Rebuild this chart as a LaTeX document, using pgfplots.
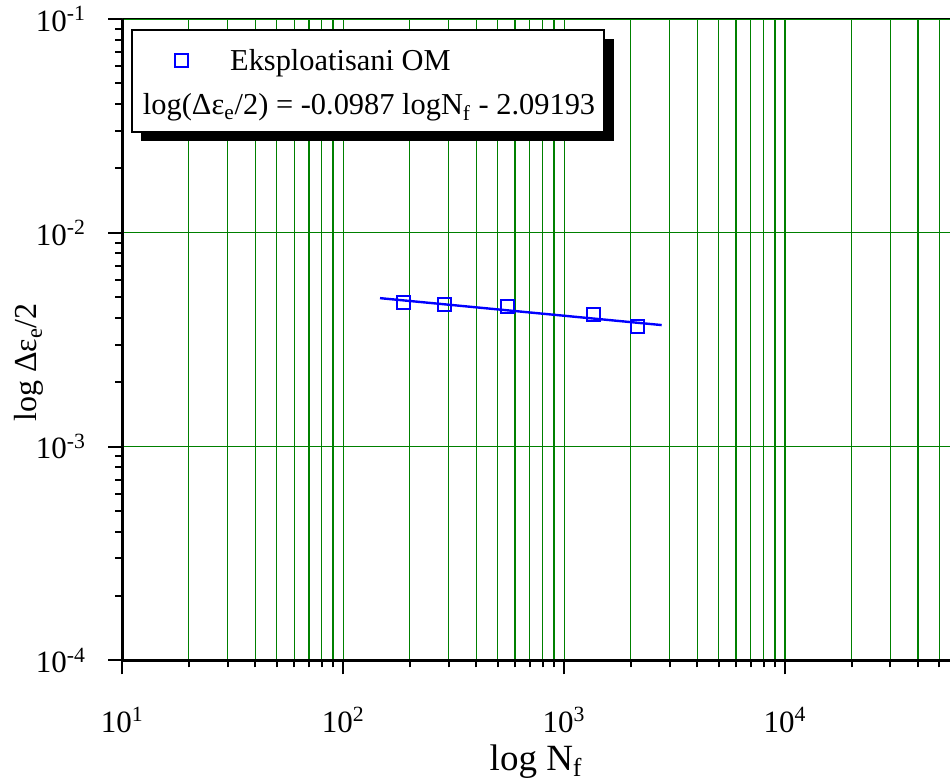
\documentclass[border=0pt]{standalone}
\usepackage{fontspec}
\setmainfont{Liberation Serif}
\usepackage{pgfplots}
\pgfplotsset{compat=1.18}
\usetikzlibrary{shadows}
\definecolor{gridgreen}{RGB}{0,128,0}
\definecolor{ptblue}{RGB}{0,0,255}
\pgfplotsset{
  myimg/.style={legend image code/.code={\path (0pt,0pt); \draw[overlay,##1] plot coordinates {(19.9pt,-1pt)};}},
  emptyimg/.style={legend image code/.code={\path (0pt,0pt);}},
}
\begin{document}
\begin{tikzpicture}
\path[use as bounding box] (-61.15pt,-59.85pt) rectangle (413.85pt,330.15pt);
\begin{axis}[
  at={(0pt,0pt)}, anchor=south west,
  scale only axis, width=413.85pt, height=320.65pt,
  xmode=log, ymode=log,
  xmin=10, xmax=55840, ymin=1e-4, ymax=1e-1,
  axis x line*=bottom, axis y line*=left,
  axis line style={-, line width=1.5pt, black},
  xtick={10,100,1000,10000},
  xticklabels={10\textsuperscript{1},10\textsuperscript{2},10\textsuperscript{3},10\textsuperscript{4}},
  minor xtick={20,30,40,50,60,70,80,90,200,300,400,500,600,700,800,900,2000,3000,4000,5000,6000,7000,8000,9000,20000,30000,40000,50000},
  ytick={1e-4,1e-3,1e-2,1e-1},
  yticklabels={10\textsuperscript{-4},10\textsuperscript{-3},10\textsuperscript{-2},10\textsuperscript{-1}},
  minor ytick={2e-4,3e-4,4e-4,5e-4,6e-4,7e-4,8e-4,9e-4,2e-3,3e-3,4e-3,5e-3,6e-3,7e-3,8e-3,9e-3,2e-2,3e-2,4e-2,5e-2,6e-2,7e-2,8e-2,9e-2},
  xmajorgrids, xminorgrids, ymajorgrids, yminorgrids=false,
  major grid style={gridgreen, line width=0.6pt},
  minor grid style={gridgreen, line width=0.6pt},
  tick align=outside,
  tick style={black, line width=1pt},
  major tick length=7pt, minor tick length=3.5pt,
  tick label style={font=\fontsize{15.5}{18}\selectfont},
  xticklabel style={anchor=base, inner sep=0pt, yshift=-29pt},
  yticklabel style={anchor=east, inner sep=0pt, xshift=-11pt},
  xlabel={log N\textsubscript{f}},
  ylabel={log Δε\textsubscript{e}/2},
  xlabel style={at={(axis description cs:0.5,-0.1711)}, anchor=base, font=\fontsize{18.5}{22}\selectfont},
  ylabel style={at={(axis description cs:-0.1034,0.4644)}, anchor=base, font=\fontsize{16}{19}\selectfont},
  legend cell align=left,
  legend style={at={(0.0105,0.9844)}, anchor=north west, draw=black, line width=1pt, fill=white,
    inner xsep=4.5pt, inner ysep=8.5pt, row sep=10pt,
    nodes={inner sep=0pt, text height=12pt, text depth=0pt},
    font=\fontsize{15.2}{18}\selectfont,
    drop shadow={shadow xshift=4.75pt, shadow yshift=-4.75pt, fill=black, draw=none, opacity=1}},
]
\addplot[ptblue, line width=1.2pt, forget plot] coordinates {(146.8,4.945e-3) (2765,3.70e-3)};
\addplot[ptblue, only marks, mark=square, mark size=3.25pt, mark options={line width=1pt, solid}, myimg]
  coordinates {(187.9,4.71e-3) (286.9,4.63e-3) (555.5,4.50e-3) (1356,4.14e-3) (2160,3.625e-3)};
\addlegendentry{\hspace*{43.6pt}Eksploatisani OM}
\addlegendimage{emptyimg}
\addlegendentry{log(Δε\textsubscript{e}/2) = -0.0987 logN\textsubscript{f} - 2.09193}
\draw[black, line width=0.5pt] (rel axis cs:0,1) -- (rel axis cs:1,1);
\end{axis}
\end{tikzpicture}
\end{document}
